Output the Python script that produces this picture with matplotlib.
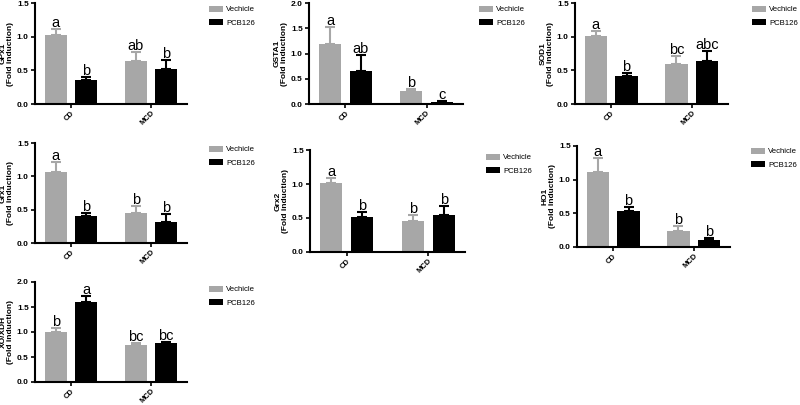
import numpy as np
import matplotlib.pyplot as plt

plt.rcParams["font.family"] = ["Liberation Sans", "DejaVu Sans"]

groups = ["CD", "MCD"]
genes = ["GPx1", "GSTA1", "SOD1", "Grx1", "Grx2", "HO1", "XO/XDH"]
y_max = [1.5, 2.0, 1.5, 1.5, 1.5, 1.5, 2.0]

# means (CD, MCD) and SEM for each gene
vehicle_mean = [[1.02, 0.64], [1.18, 0.26], [1.01, 0.59], [1.06, 0.45],
                [1.01, 0.46], [1.11, 0.24], [1.00, 0.74]]
vehicle_err = [[0.10, 0.13], [0.34, 0.04], [0.07, 0.13], [0.15, 0.10],
               [0.08, 0.08], [0.21, 0.07], [0.08, 0.04]]
pcb_mean = [[0.36, 0.52], [0.65, 0.03], [0.41, 0.64], [0.40, 0.31],
            [0.52, 0.54], [0.53, 0.10], [1.60, 0.78]]
pcb_err = [[0.04, 0.14], [0.32, 0.02], [0.05, 0.15], [0.05, 0.12],
           [0.07, 0.13], [0.07, 0.03], [0.12, 0.02]]
vehicle_letters = [["a", "ab"], ["a", "b"], ["a", "bc"], ["a", "b"],
                   ["a", "b"], ["a", "b"], ["b", "bc"]]
pcb_letters = [["b", "b"], ["ab", "c"], ["b", "abc"], ["b", "b"],
               ["b", "b"], ["b", "b"], ["a", "bc"]]

# panel boxes in pixels: left, right, top, bottom ; legend anchor x, y
boxes = [(35, 187, 3, 104), (309, 463, 3, 104), (575, 728, 3, 104),
         (35, 187, 143, 243), (310, 465, 150, 252), (577, 730, 146, 247),
         (35, 187, 282, 382)]
legend_pos = [(208, 5), (478, 5), (751, 5), (208, 145), (485, 153),
              (750, 147), (208, 285)]

W, H = 800, 405
GRAY = "#a7a7a7"
fig = plt.figure(figsize=(W / 100, H / 100), dpi=100)

x = np.arange(len(groups))
off, bw = 0.19, 0.275

for i, gene in enumerate(genes):
    l, r, t, b = boxes[i]
    ax = fig.add_axes([l / W, 1 - b / H, (r - l) / W, (b - t) / H])
    for means, errs, col, lab, letters, sign in [
        (vehicle_mean[i], vehicle_err[i], GRAY, "Vechicle", vehicle_letters[i], -1),
        (pcb_mean[i], pcb_err[i], "black", "PCB126", pcb_letters[i], 1),
    ]:
        xs = x + sign * off
        ax.bar(xs, means, bw, color=col, label=lab, zorder=2)
        ax.errorbar(xs, means, yerr=[np.zeros(2), errs], fmt="none",
                    ecolor=col, elinewidth=1.5, capsize=3.5, capthick=1.5,
                    zorder=1)
        for xi, m, e, s in zip(xs, means, errs, letters):
            ax.text(xi, m + e - 0.01 * y_max[i], s, ha="center", va="bottom",
                    fontsize=10.5)
    ax.set_xlim(-0.45, 1.45)
    ax.set_ylim(0, y_max[i])
    ticks = np.arange(0, y_max[i] + 0.01, 0.5)
    ax.set_yticks(ticks)
    ax.set_yticklabels([f"{v:.1f}" for v in ticks], fontsize=6,
                       fontweight="bold")
    ax.set_xticks(x)
    ax.set_xticklabels(groups, rotation=45, ha="right", rotation_mode="anchor",
                       fontsize=5.5, fontweight="bold")
    ax.tick_params(width=1.2, length=3, pad=1.5)
    ax.tick_params(axis="x", pad=1)
    for side in ["top", "right"]:
        ax.spines[side].set_visible(False)
    for side in ["left", "bottom"]:
        ax.spines[side].set_linewidth(1.5)
    ax.set_ylabel(f"{gene}\n(Fold induction)", fontsize=6, fontweight="bold",
                  labelpad=2, linespacing=1.1)
    lx, ly = legend_pos[i]
    ax.legend(loc="upper left", bbox_to_anchor=(lx / W, 1 - ly / H),
              bbox_transform=fig.transFigure, frameon=False, fontsize=5.6,
              handlelength=1.8, handleheight=0.8, handletextpad=0.4,
              labelspacing=0.75, borderaxespad=0, borderpad=0.1)

fig.savefig("out.png", dpi=100)
